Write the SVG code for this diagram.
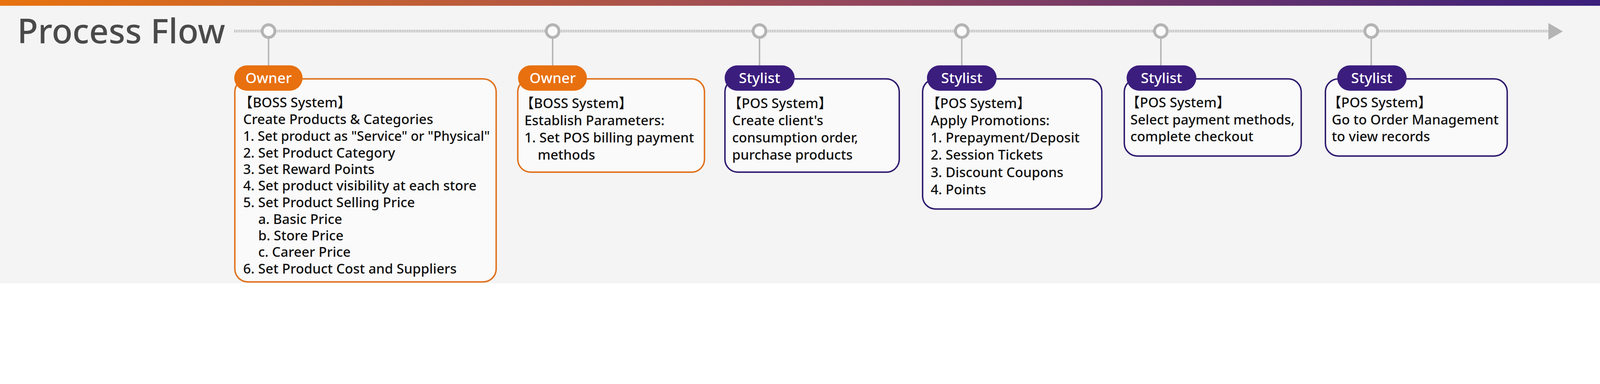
<svg xmlns="http://www.w3.org/2000/svg" width="5553" height="984" viewBox="0 0 5553 984" style="max-width:100vw;height:auto">
<defs>
<linearGradient id="bar" x1="0" x2="1" y1="0" y2="0"><stop offset="0" stop-color="#e8730f"/><stop offset="0.5" stop-color="#9a4a5a"/><stop offset="1" stop-color="#3a1f7c"/></linearGradient>
</defs>
<style>
.t{font-family:"Noto Sans","Noto Sans CJK SC",sans-serif;font-size:47px;font-weight:500;fill:#111}
.p{font-family:"Noto Sans",sans-serif;font-size:50px;font-weight:500;fill:#fff;text-anchor:middle}
.bo{fill:#fafafa;stroke:#e0701c;stroke-width:5}
.bp{fill:#fafafa;stroke:#2e1a6e;stroke-width:5}
.po{fill:#e8700f}.pp{fill:#3b1d7d}
.st{stroke:#b4b4b4;stroke-width:5}
.ci{fill:#fafafa;stroke:#b4b4b4;stroke-width:10}
</style>
<rect width="5553" height="984" fill="#f4f4f4"/>
<rect width="5553" height="20" fill="url(#bar)"/>
<text x="60" y="150" style="font-family:'Noto Sans',sans-serif;font-size:118px;font-weight:500;fill:#4a4a4a">Process Flow</text>
<g id="connectors">
<line x1="813" y1="108" x2="5376" y2="108" stroke="#b4b4b4" stroke-width="10" stroke-dasharray="3 3"/>
<polygon points="5374,80 5424,109 5374,138" fill="#b4b4b4"/>
<line class="st" x1="932" y1="108" x2="932" y2="228"/>
<line class="st" x1="1918" y1="108" x2="1918" y2="228"/>
<line class="st" x1="2636" y1="108" x2="2636" y2="228"/>
<line class="st" x1="3338" y1="108" x2="3338" y2="228"/>
<line class="st" x1="4029" y1="108" x2="4029" y2="228"/>
<line class="st" x1="4759" y1="108" x2="4759" y2="228"/>
<circle class="ci" cx="932" cy="108" r="22"/>
<circle class="ci" cx="1918" cy="108" r="22"/>
<circle class="ci" cx="2636" cy="108" r="22"/>
<circle class="ci" cx="3338" cy="108" r="22"/>
<circle class="ci" cx="4029" cy="108" r="22"/>
<circle class="ci" cx="4759" cy="108" r="22"/>
</g>
<g id="n1">
<rect class="bo" x="815" y="274" width="907" height="705" rx="45"/>
<rect class="po" x="813" y="227" width="237" height="88" rx="44"/>
<text class="p" x="932" y="289">Owner</text>
<text class="t" x="830" y="373">【BOSS System】</text>
<text class="t" x="844" y="431">Create Products &amp; Categories</text>
<text class="t" x="844" y="489" textLength="856" lengthAdjust="spacingAndGlyphs">1. Set product as "Service" or "Physical"</text>
<text class="t" x="844" y="547">2. Set Product Category</text>
<text class="t" x="844" y="605">3. Set Reward Points</text>
<text class="t" x="844" y="662">4. Set product visibility at each store</text>
<text class="t" x="844" y="720">5. Set Product Selling Price</text>
<text class="t" x="896" y="778">a. Basic Price</text>
<text class="t" x="896" y="835">b. Store Price</text>
<text class="t" x="896" y="892">c. Career Price</text>
<text class="t" x="844" y="950">6. Set Product Cost and Suppliers</text>
</g>
<g id="n2">
<rect class="bo" x="1797" y="274" width="648" height="324" rx="45"/>
<rect class="po" x="1798" y="227" width="239" height="88" rx="44"/>
<text class="p" x="1918" y="289">Owner</text>
<text class="t" x="1806" y="375">【BOSS System】</text>
<text class="t" x="1820" y="435">Establish Parameters:</text>
<text class="t" x="1820" y="495">1. Set POS billing payment</text>
<text class="t" x="1866" y="555">methods</text>
</g>
<g id="n3">
<rect class="bp" x="2516" y="274" width="605" height="324" rx="45"/>
<rect class="pp" x="2515" y="227" width="243" height="88" rx="44"/>
<text class="p" x="2636" y="289">Stylist</text>
<text class="t" x="2527" y="375">【POS System】</text>
<text class="t" x="2541" y="435">Create client's</text>
<text class="t" x="2541" y="495">consumption order,</text>
<text class="t" x="2541" y="555">purchase products</text>
</g>
<g id="n4">
<rect class="bp" x="3202" y="274" width="622" height="452" rx="45"/>
<rect class="pp" x="3217" y="227" width="242" height="88" rx="44"/>
<text class="p" x="3338" y="289">Stylist</text>
<text class="t" x="3216" y="375">【POS System】</text>
<text class="t" x="3230" y="435">Apply Promotions:</text>
<text class="t" x="3230" y="495">1. Prepayment/Deposit</text>
<text class="t" x="3230" y="555">2. Session Tickets</text>
<text class="t" x="3230" y="615">3. Discount Coupons</text>
<text class="t" x="3230" y="675">4. Points</text>
</g>
<g id="n5">
<rect class="bp" x="3902" y="274" width="614" height="268" rx="45"/>
<rect class="pp" x="3910" y="227" width="242" height="88" rx="44"/>
<text class="p" x="4031" y="289">Stylist</text>
<text class="t" x="3909" y="373">【POS System】</text>
<text class="t" x="3923" y="433">Select payment methods,</text>
<text class="t" x="3923" y="491">complete checkout</text>
</g>
<g id="n6">
<rect class="bp" x="4600" y="274" width="631" height="268" rx="45"/>
<rect class="pp" x="4641" y="227" width="241" height="88" rx="44"/>
<text class="p" x="4761" y="289">Stylist</text>
<text class="t" x="4608" y="373">【POS System】</text>
<text class="t" x="4622" y="433">Go to Order Management</text>
<text class="t" x="4622" y="491">to view records</text>
</g>
</svg>
